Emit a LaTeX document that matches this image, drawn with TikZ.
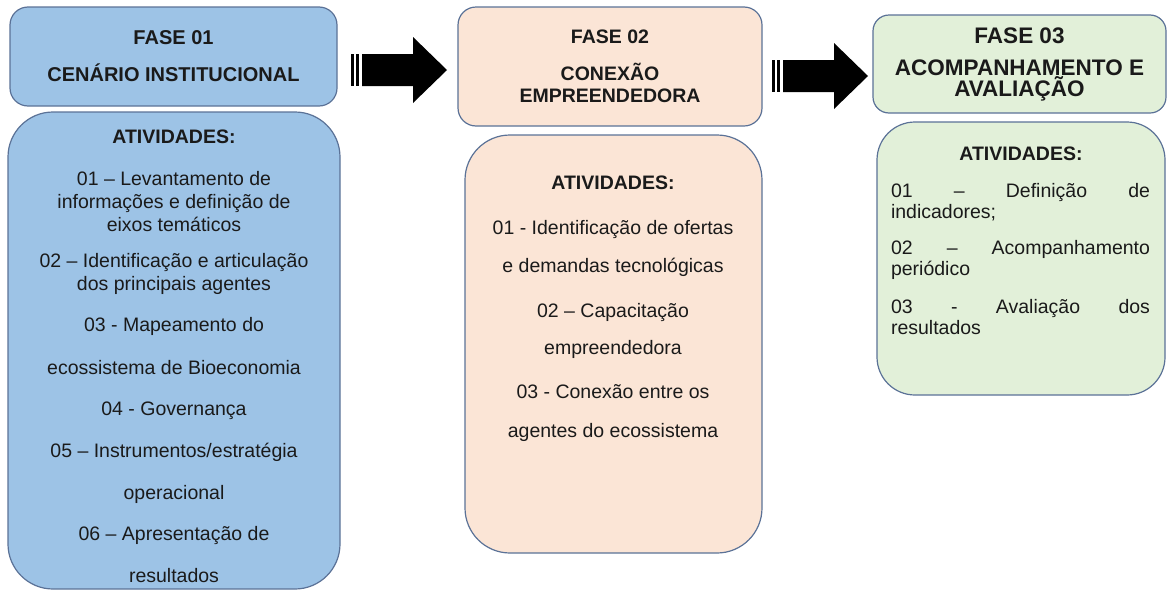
\documentclass[tikz,border=0pt]{standalone}
\usepackage{fontspec}
\setmainfont{Liberation Sans}
\usepackage{xcolor}
\usepackage{tikz}

\definecolor{blueph}{HTML}{9DC3E6}
\definecolor{peachph}{HTML}{FBE5D6}
\definecolor{greenph}{HTML}{E2F0D9}
\definecolor{edgeph}{HTML}{5B7297}
\definecolor{inkph}{HTML}{1A1A1A}

\newlength{\jwidth}
\setlength{\jwidth}{259pt}
\newcommand{\jline}[1]{\makebox[\jwidth]{#1}}

\begin{document}
\begin{tikzpicture}[x=1pt, y=-1pt,
    phasebox/.style={draw=edgeph, line width=1.2pt, rounded corners=18pt, fill=#1, inner sep=0pt, align=center, text=inkph, font=\fontsize{19.5}{22}\selectfont\bfseries},
    actbox/.style={draw=edgeph, line width=1.2pt, rounded corners=45pt, fill=#1, inner sep=0pt},
    acttitle/.style={text=inkph, inner sep=0pt, font=\fontsize{19.5}{22}\selectfont\bfseries},
    actline/.style={text=inkph, inner sep=0pt, align=center, font=\fontsize{19.5}{#1}\selectfont},
    actline/.default=23,
    actjust/.style={text=inkph, inner sep=0pt, text width=\jwidth, align=left, font=\fontsize{19.5}{21}\selectfont},
    blockarr/.style={fill=black}
]
    \useasboundingbox (0,0) rectangle (1167,592);

    % Phase headers
    \node[phasebox=blueph, minimum width=327pt, minimum height=99pt, font=\fontsize{20}{22}\selectfont\bfseries] (head1) at (173.5,56.5) {FASE 01\\[15pt]CENÁRIO INSTITUCIONAL};
    \node[phasebox=peachph, minimum width=304pt, minimum height=119pt] (head2) at (610,66.5) {FASE 02\\[15pt]CONEXÃO\\EMPREENDEDORA};
    \node[phasebox=greenph, minimum width=293pt, minimum height=98pt, rounded corners=16pt, font=\fontsize{22.5}{21}\selectfont\bfseries] (head3) at (1019.5,64) {FASE 03\\[11pt]ACOMPANHAMENTO E\\AVALIAÇÃO};

    % Activity cards
    \node[actbox=blueph, minimum width=332pt, minimum height=477pt] (act1) at (174,350.5) {};
    \node[actbox=peachph, minimum width=297pt, minimum height=418pt] (act2) at (613.5,344) {};
    \node[actbox=greenph, minimum width=288pt, minimum height=273pt, rounded corners=38pt] (act3) at (1021,258.5) {};

    % Phase 01 activities
    \node[acttitle] (tit1) at (174,137) {ATIVIDADES:};
    \node[actline] (a1i1) at (174,202) {01 – Levantamento de\\informações e definição de\\eixos temáticos};
    \node[actline=23] (a1i2) at (174,274) {02 – Identificação e articulação\\dos principais agentes};
    \node[actline=43] (a1i3) at (174,346) {03 - Mapeamento do\\ecossistema de Bioeconomia};
    \node[actline] (a1i4) at (174,411) {04 - Governança};
    \node[actline=42] (a1i5) at (174,473) {05 – Instrumentos/estratégia\\operacional};
    \node[actline=42] (a1i6) at (174,555) {06 – Apresentação de\\resultados};

    % Phase 02 activities
    \node[acttitle] (tit2) at (613,183) {ATIVIDADES:};
    \node[actline=38] (a2i1) at (613,248.5) {01 - Identificação de ofertas\\e demandas tecnológicas};
    \node[actline=37] (a2i2) at (613,330.5) {02 – Capacitação\\empreendedora};
    \node[actline=39] (a2i3) at (613,413) {03 - Conexão entre os\\agentes do ecossistema};

    % Phase 03 activities
    \node[acttitle] (tit3) at (1021,154) {ATIVIDADES:};
    \node[actjust] (a3i1) at (1020.5,202) {\jline{01\hfill–\hfill Definição\hfill de}\\indicadores;};
    \node[actjust] (a3i2) at (1020.5,260) {\jline{02\hfill–\hfill Acompanhamento}\\periódico};
    \node[actjust] (a3i3) at (1020.5,317) {\jline{03\hfill-\hfill Avaliação\hfill dos}\\resultados};

    % Striped block arrows between phases
    \foreach \xa/\yc in {351/70, 772/76} {
        \fill[blockarr] (\xa,\yc-16) rectangle ++(3,32);
        \fill[blockarr] (\xa+5,\yc-16) rectangle ++(3,32);
        \fill[blockarr] (\xa+11,\yc-16) -- (\xa+62,\yc-16) -- (\xa+62,\yc-33) -- (\xa+96,\yc)
            -- (\xa+62,\yc+33) -- (\xa+62,\yc+16) -- (\xa+11,\yc+16) -- cycle;
    }
\end{tikzpicture}
\end{document}
